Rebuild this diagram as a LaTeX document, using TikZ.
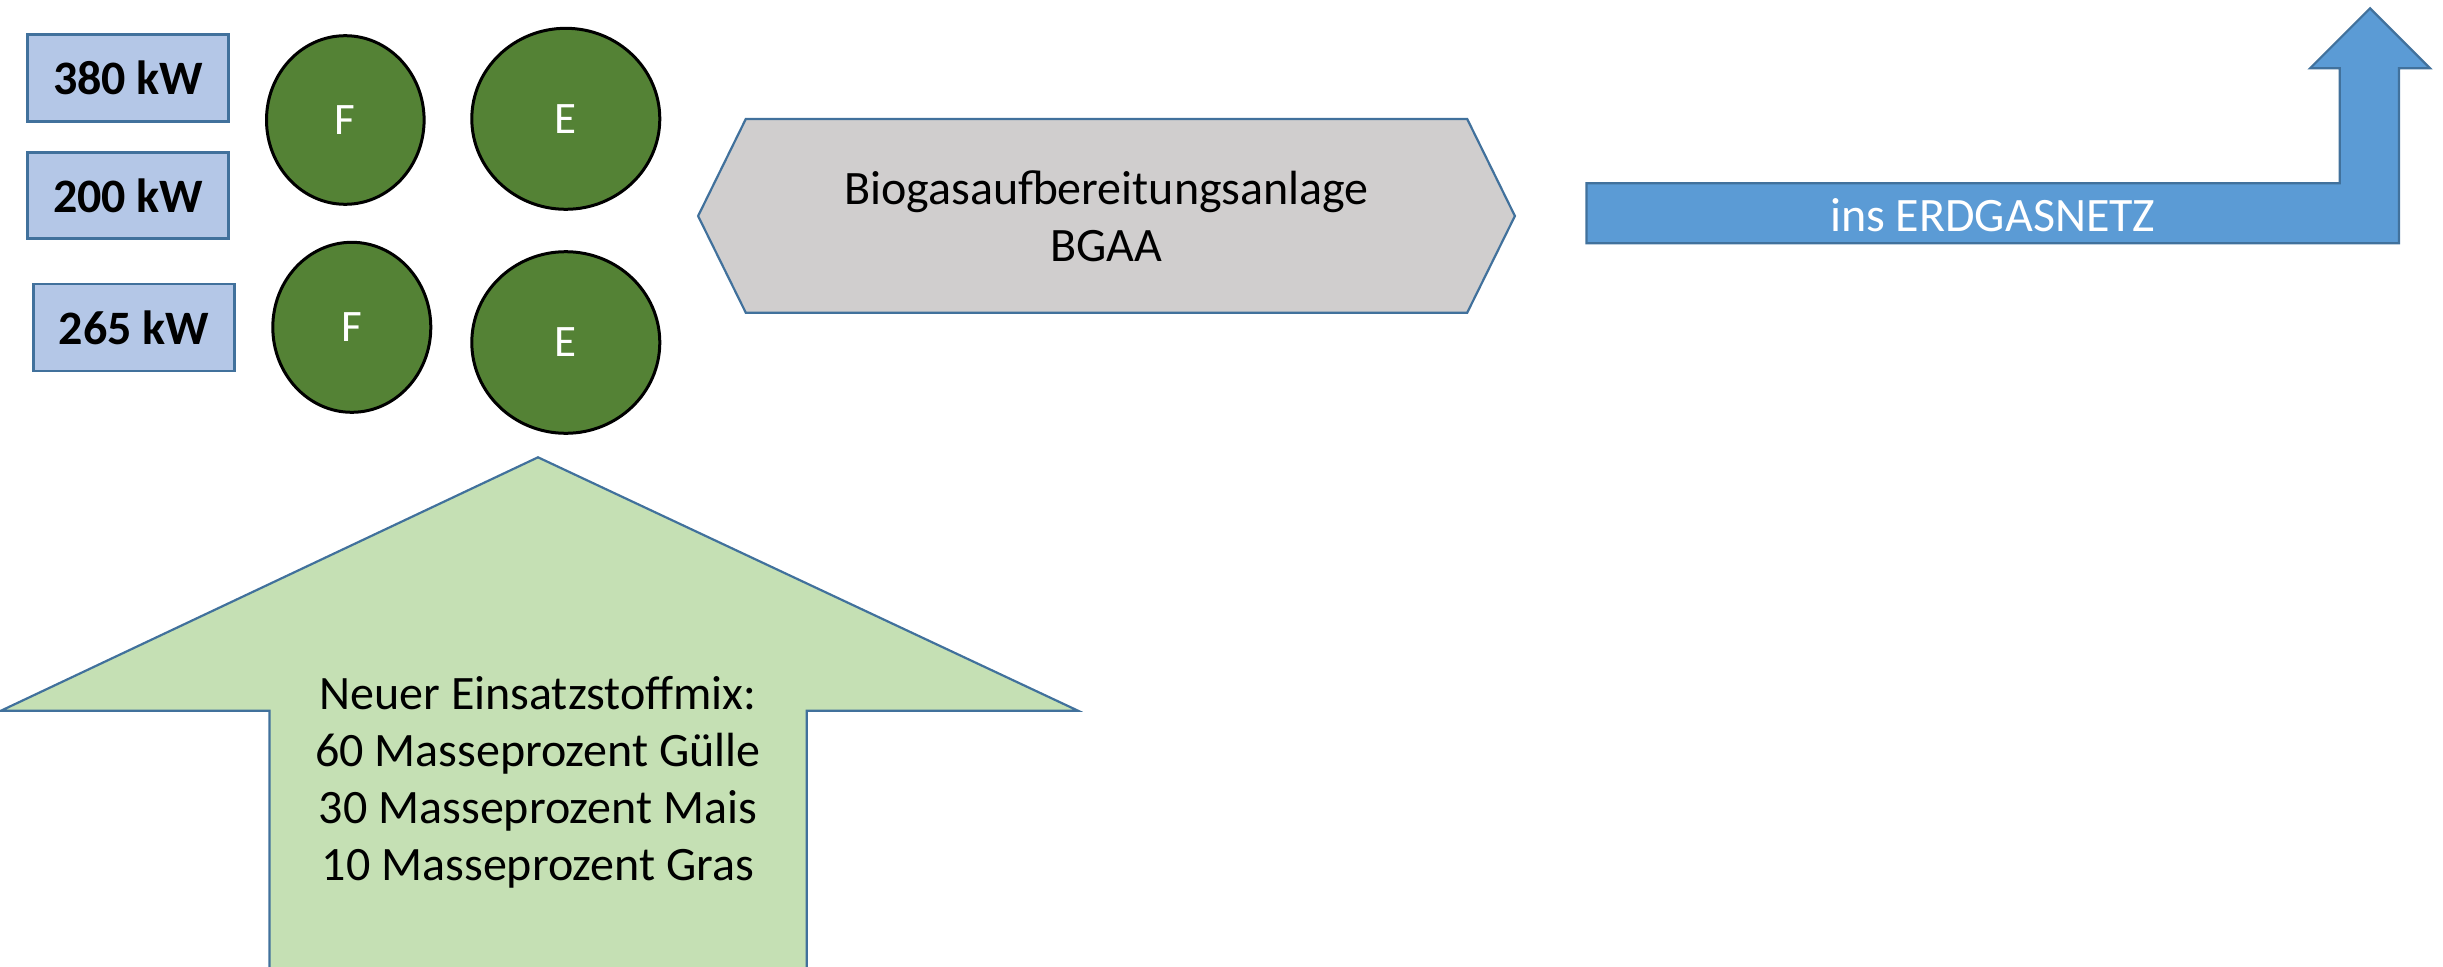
\documentclass[tikz,border=0pt]{standalone}
\usepackage{fontspec}
\setmainfont{Carlito}
\usetikzlibrary{shapes.geometric}

\definecolor{boxblue}{HTML}{B4C7E7}
\definecolor{edgeblue}{HTML}{41719C}
\definecolor{leafgreen}{HTML}{548235}
\definecolor{plantgrey}{HTML}{D0CECE}
\definecolor{gridblue}{HTML}{5B9BD5}
\definecolor{feedgreen}{HTML}{C5E0B4}

\begin{document}
\begin{tikzpicture}[x=1pt, y=-1pt,
  kwbox/.style={draw=edgeblue, line width=2.8pt, fill=boxblue, inner sep=0pt,
    minimum width=201pt, minimum height=87pt,
    font=\fontsize{48}{58}\selectfont\bfseries},
  tank/.style={ellipse, draw=black, line width=3pt, fill=leafgreen, inner sep=0pt,
    text=white, font=\fontsize{45}{55}\selectfont},
  shapeedge/.style={draw=edgeblue, line width=2.2pt, line join=miter},
  label/.style={inner sep=0pt, align=center, font=\fontsize{48}{57}\selectfont}
]
\clip (0,0) rectangle (2443,966);
\useasboundingbox (0,0) rectangle (2443,966);

% power ratings
\node[kwbox] (p380) at (128.2,77.7) {380 kW};
\node[kwbox, minimum height=86.4pt] (p200) at (128.2,195.5) {200 kW};
\node[kwbox] (p265) at (134,327.4) {265 kW};

% fermenters and final storage tanks
\node[tank, minimum width=157.6pt, minimum height=168.6pt] (f1) at (345.3,120) {F};
\node[tank, minimum width=188pt, minimum height=181pt] (e1) at (565.8,118.8) {E};
\node[tank, minimum width=158pt, minimum height=170pt] (f2) at (351.8,327.3) {F};
\node[tank, minimum width=188pt, minimum height=181.6pt] (e2) at (565.8,342.5) {E};

% biogas upgrading plant
\path[shapeedge, fill=plantgrey]
  (698.1,216) -- (745.8,119) -- (1467.2,119) -- (1514.9,216)
  -- (1467.2,312.7) -- (745.8,312.7) -- cycle;
\node[label] (bgaa) at (1106.5,216) {Biogasaufbereitungsanlage\\BGAA};

% bent arrow into the gas grid
\path[shapeedge, fill=gridblue]
  (1586.5,183.3) -- (2339.8,183.3) -- (2339.8,68.3) -- (2310,68.3)
  -- (2370,8.3) -- (2430,68.3) -- (2399,68.3) -- (2399,243.3)
  -- (1586.5,243.3) -- cycle;
\node[label, text=white] (grid) at (1992.75,214.7) {ins ERDGASNETZ};

% feedstock arrow
\path[shapeedge, fill=feedgreen]
  (538,457.3) -- (1078,710.7) -- (806.7,710.7) -- (806.7,990)
  -- (269.4,990) -- (269.4,710.7) -- (1,710.7) -- cycle;
\node[label] (mix) at (538,782)
  {Neuer Einsatzstoffmix:\\60 Masseprozent Gülle\\30 Masseprozent Mais\\10 Masseprozent Gras};
\end{tikzpicture}
\end{document}
